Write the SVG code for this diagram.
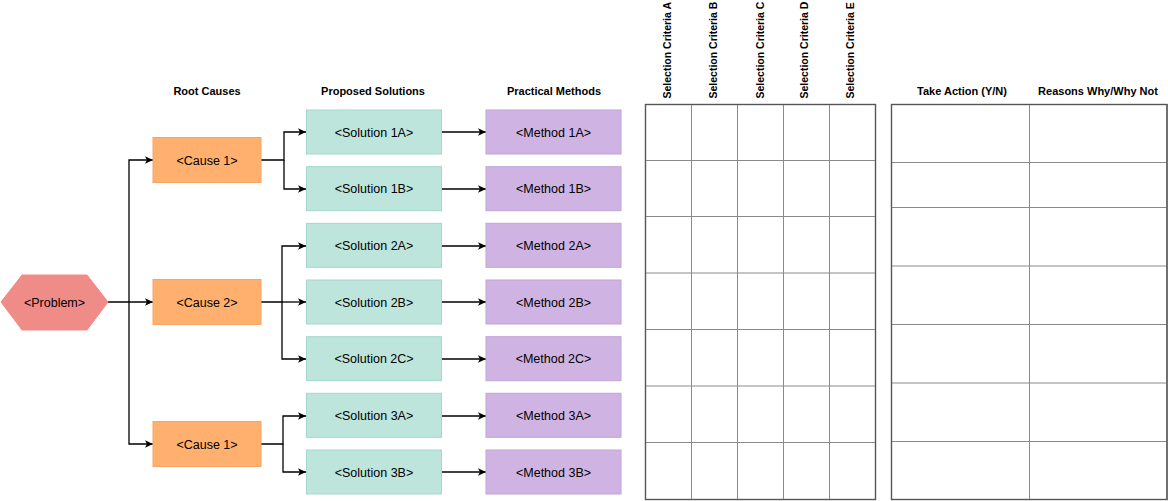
<svg xmlns="http://www.w3.org/2000/svg" width="1168" height="501" viewBox="0 0 1168 501">
<style>
text{font-family:"Liberation Sans",Arial,sans-serif;fill:#000}
.lbl{font-size:12.5px;text-anchor:middle;dominant-baseline:central}
.hdr{font-size:11px;font-weight:bold;text-anchor:middle}
.vh{font-size:10.5px;font-weight:bold}
.cause{fill:#FFB06E;stroke:#F5A466;stroke-width:1}
.sol{fill:#BDE5DC;stroke:#A3D8CB;stroke-width:1}
.meth{fill:#CFB4E3;stroke:#BFA3D8;stroke-width:1}
.prob{fill:#F08C87;stroke:#F08C87;stroke-width:1}
.con{fill:none;stroke:#000;stroke-width:1.3;marker-end:url(#arr)}
.outer{fill:#fff;stroke:#555;stroke-width:1.2}
.inner{stroke:#8a8a8a;stroke-width:1}
</style>
<defs>
<marker id="arr" markerUnits="userSpaceOnUse" markerWidth="10" markerHeight="10" refX="9" refY="5" orient="auto">
<path d="M1,1.3 L9,5 L1,8.7 L3,5 Z" fill="#000"/>
</marker>
</defs>
<rect width="1168" height="501" fill="#fff"/>

<g id="headers">
<text class="hdr" x="207" y="95">Root Causes</text>
<text class="hdr" x="373" y="95">Proposed Solutions</text>
<text class="hdr" x="554" y="95">Practical Methods</text>
<text class="hdr" x="962" y="95">Take Action (Y/N)</text>
<text class="hdr" x="1098" y="95">Reasons Why/Why Not</text>
<text class="vh" transform="translate(670.5,98.5) rotate(-90)">Selection Criteria A</text>
<text class="vh" transform="translate(717,98.5) rotate(-90)">Selection Criteria B</text>
<text class="vh" transform="translate(764,98.5) rotate(-90)">Selection Criteria C</text>
<text class="vh" transform="translate(808,98.5) rotate(-90)">Selection Criteria D</text>
<text class="vh" transform="translate(854,98.5) rotate(-90)">Selection Criteria E</text>
</g>

<g id="connectors">
<path class="con" d="M108,302 H153"/>
<path class="con" d="M129,302 V160 H153"/>
<path class="con" d="M129,302 V444 H153"/>
<path class="con" d="M261,160 H284 V132 H306"/>
<path class="con" d="M284,160 V189 H306"/>
<path class="con" d="M261,302 H282 V246 H306"/>
<path class="con" d="M282,302 H306"/>
<path class="con" d="M282,302 V359 H306"/>
<path class="con" d="M261,444 H283 V416 H306"/>
<path class="con" d="M283,444 V472 H306"/>
<path class="con" d="M441,132 H486"/>
<path class="con" d="M441,189 H486"/>
<path class="con" d="M441,246 H486"/>
<path class="con" d="M441,302 H486"/>
<path class="con" d="M441,359 H486"/>
<path class="con" d="M441,416 H486"/>
<path class="con" d="M441,472 H486"/>
</g>

<g id="problem">
<polygon class="prob" points="1,302 22,275 87,275 108,302 87,330 22,330"/>
<text class="lbl" x="54.5" y="303">&lt;Problem&gt;</text>
</g>

<g id="cause1">
<rect class="cause" x="153" y="137.5" width="108" height="45"/>
<text class="lbl" x="207" y="160.5">&lt;Cause 1&gt;</text>
</g>
<g id="cause2">
<rect class="cause" x="153" y="279.5" width="108" height="45"/>
<text class="lbl" x="207" y="302.5">&lt;Cause 2&gt;</text>
</g>
<g id="cause3">
<rect class="cause" x="153" y="421.5" width="108" height="45"/>
<text class="lbl" x="207" y="444.5">&lt;Cause 1&gt;</text>
</g>

<g id="sol1a"><rect class="sol" x="306.5" y="110" width="135" height="44"/><text class="lbl" x="374" y="132.5">&lt;Solution 1A&gt;</text></g>
<g id="sol1b"><rect class="sol" x="306.5" y="166.7" width="135" height="44"/><text class="lbl" x="374" y="189.2">&lt;Solution 1B&gt;</text></g>
<g id="sol2a"><rect class="sol" x="306.5" y="223.3" width="135" height="44"/><text class="lbl" x="374" y="245.8">&lt;Solution 2A&gt;</text></g>
<g id="sol2b"><rect class="sol" x="306.5" y="280" width="135" height="44"/><text class="lbl" x="374" y="302.5">&lt;Solution 2B&gt;</text></g>
<g id="sol2c"><rect class="sol" x="306.5" y="336.7" width="135" height="44"/><text class="lbl" x="374" y="359.2">&lt;Solution 2C&gt;</text></g>
<g id="sol3a"><rect class="sol" x="306.5" y="393.3" width="135" height="44"/><text class="lbl" x="374" y="415.8">&lt;Solution 3A&gt;</text></g>
<g id="sol3b"><rect class="sol" x="306.5" y="450" width="135" height="44"/><text class="lbl" x="374" y="472.5">&lt;Solution 3B&gt;</text></g>

<g id="meth1a"><rect class="meth" x="486" y="110" width="135" height="44"/><text class="lbl" x="553.5" y="132.5">&lt;Method 1A&gt;</text></g>
<g id="meth1b"><rect class="meth" x="486" y="166.7" width="135" height="44"/><text class="lbl" x="553.5" y="189.2">&lt;Method 1B&gt;</text></g>
<g id="meth2a"><rect class="meth" x="486" y="223.3" width="135" height="44"/><text class="lbl" x="553.5" y="245.8">&lt;Method 2A&gt;</text></g>
<g id="meth2b"><rect class="meth" x="486" y="280" width="135" height="44"/><text class="lbl" x="553.5" y="302.5">&lt;Method 2B&gt;</text></g>
<g id="meth2c"><rect class="meth" x="486" y="336.7" width="135" height="44"/><text class="lbl" x="553.5" y="359.2">&lt;Method 2C&gt;</text></g>
<g id="meth3a"><rect class="meth" x="486" y="393.3" width="135" height="44"/><text class="lbl" x="553.5" y="415.8">&lt;Method 3A&gt;</text></g>
<g id="meth3b"><rect class="meth" x="486" y="450" width="135" height="44"/><text class="lbl" x="553.5" y="472.5">&lt;Method 3B&gt;</text></g>

<g id="criteria-grid">
<rect class="outer" x="645.5" y="104.5" width="230" height="395"/>
<path class="inner" d="M691.5,104.5 V499.5 M737.5,104.5 V499.5 M783.5,104.5 V499.5 M829.5,104.5 V499.5 M645.5,160.5 H875.5 M645.5,216.5 H875.5 M645.5,273 H875.5 M645.5,329.5 H875.5 M645.5,386 H875.5 M645.5,442.5 H875.5"/>
<rect x="645.5" y="104.5" width="230" height="395" fill="none" stroke="#555" stroke-width="1.2"/>
</g>

<g id="action-grid">
<rect class="outer" x="891.5" y="104.5" width="275.5" height="395"/>
<path class="inner" d="M1029.5,104.5 V499.5 M891.5,162.5 H1167 M891.5,207.5 H1167 M891.5,266 H1167 M891.5,324.5 H1167 M891.5,383 H1167 M891.5,441.5 H1167"/>
<rect x="891.5" y="104.5" width="275.5" height="395" fill="none" stroke="#555" stroke-width="1.2"/>
</g>
</svg>
